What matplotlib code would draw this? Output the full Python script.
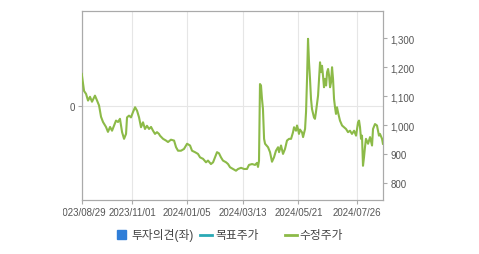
import matplotlib
matplotlib.use('Agg')
import matplotlib.pyplot as plt
from matplotlib.lines import Line2D
from matplotlib.patches import Rectangle
from matplotlib.ticker import FuncFormatter
from matplotlib.transforms import Bbox, TransformedBbox

plt.rcParams['font.family'] = ['Liberation Sans', 'Noto Sans CJK KR', 'DejaVu Sans']

# trading-day index (0 = 2023/08/29) and adjusted price
day = [0, 1.9, 3.5, 5.1, 6.7, 8.3, 10.7, 12.4, 14, 15.6, 17.2, 19.6, 21.2, 22.9, 24.5,
       26.1, 27.7, 29.3, 30.9, 32.6, 34.2, 35.8, 36.6, 38.2, 39.8, 41.4, 43.1, 44.7,
       46.3, 47.9, 49.5, 51.1, 52.7, 54.4, 56, 57.6, 59.2, 60.8, 62.4, 63.2, 65.7,
       68.1, 69.7, 72.1, 74.6, 76.2, 77.8, 80.2, 82.6, 85.1, 87.5, 89.1, 91.5, 93.9,
       95.6, 98, 100.4, 102, 104.4, 106.1, 107.7, 109.3, 110.9, 112.5, 114.1, 116.6,
       118.2, 119.8, 122.2, 124.6, 126.3, 128.7, 131.1, 133.5, 135.1, 137.6, 140,
       141.6, 142.4, 143.2, 144, 144.8, 145.6, 146.4, 147.3, 148.1, 150.5, 152.1,
       153.7, 155.3, 156.9, 158.6, 159.4, 161, 162.6, 164.2, 165.8, 167.5, 169.1,
       170.7, 171.5, 173.1, 173.9, 174.7, 175.5, 176.3, 178, 178.8, 180.4, 181.2,
       182, 182.8, 183.6, 184.4, 185.2, 186, 187.6, 188.4, 189.2, 190.9, 191.7,
       192.5, 193.3, 194.1, 194.9, 195.7, 196.5, 197.4, 198.2, 199, 199.8, 200.6,
       201.4, 202.2, 203, 203.8, 204.6, 205.4, 206.2, 207, 208.6, 210.3, 211.9,
       213.5, 215.1, 216.7, 218.3, 220, 221.6, 223.2, 224, 224.8, 225.6, 226.4,
       227.2, 228, 228.8, 229.6, 231.3, 232.9, 234.5, 235.3, 236.9, 238.5, 239.3,
       240.1, 240.9, 242.6, 243.3]
price = [1177, 1118, 1108, 1085, 1098, 1081, 1102, 1085, 1068, 1029, 1011, 994, 977, 994,
         981, 999, 1016, 1011, 1022, 976, 953, 970, 1027, 1033, 1027, 1045, 1062, 1050,
         1027, 993, 1010, 987, 998, 987, 994, 981, 970, 976, 970, 964, 953, 947, 942,
         950, 947, 924, 912, 912, 918, 936, 930, 912, 907, 901, 889, 884, 872, 878,
         866, 872, 889, 907, 903, 889, 878, 872, 866, 855, 849, 843, 849, 853, 849,
         849, 863, 866, 863, 870, 856, 877, 1142, 1137, 1091, 1056, 953, 936, 924,
         907, 874, 889, 912, 924, 907, 930, 901, 918, 947, 953, 953, 976, 993, 981,
         999, 987, 970, 985, 975, 959, 987, 1046, 1160, 1298, 1217, 1160, 1091, 1056,
         1027, 1022, 1045, 1102, 1160, 1217, 1183, 1205, 1171, 1131, 1160, 1137,
         1183, 1194, 1171, 1131, 1148, 1200, 1160, 1091, 1062, 1039, 1062, 1045,
         1016, 999, 993, 987, 976, 981, 970, 981, 964, 1010, 1016, 993, 953, 964,
         860, 889, 924, 953, 936, 959, 930, 987, 1004, 999, 981, 964, 970, 953, 936]

tick_days = [0, 41, 85, 130, 175, 222]
tick_labels = ['2023/08/29', '2023/11/01', '2024/01/05', '2024/03/13', '2024/05/21', '2024/07/26']
right_ticks = [800, 900, 1000, 1100, 1200, 1300]

legend_labels = ['투자의견(좌)', '목표주가', '수정주가']
c_opinion = '#2f7ed8'
c_target = '#2aa9b5'
c_price = '#8cba48'
grey = '#aaaaaa'
txt = '#555555'

fig = plt.figure(figsize=(4.79, 2.55), dpi=100)
ax = fig.add_axes([0.1706, 0.2118, 0.6296, 0.74])
ax2 = ax.twinx()

# left axis (opinion), only the 0 line
ax.set_ylim(-1, 1)
ax.set_yticks([0])
ax.set_yticklabels(['0'])
ax.set_xlim(0, 243.6)
ax.set_xticks(tick_days)
ax.set_xticklabels(tick_labels)
ax.grid(True, color='#e6e6e6', linewidth=0.8)
ax.set_axisbelow(True)
ax.tick_params(axis='both', colors=grey, labelcolor=txt, labelsize=7, length=3, width=0.8, pad=2)

# the first date label is cut at the left edge of the chart box
clip = TransformedBbox(Bbox([[63 / 479, 0], [1, 1]]), fig.transFigure)
first = ax.get_xticklabels()[0]
first.set_clip_on(True)
first.set_clip_box(clip)

ax2.plot(day, price, color=c_price, linewidth=1.5, zorder=3)
ax2.set_ylim(742, 1393)
ax2.set_yticks(right_ticks)
ax2.yaxis.set_major_formatter(FuncFormatter(lambda v, p: f'{int(v):,}'))
ax2.tick_params(axis='y', colors=grey, labelcolor=txt, labelsize=7, length=3, width=0.8, pad=2)

for a in (ax, ax2):
    for s in a.spines.values():
        s.set_color(grey)
        s.set_linewidth(0.8)

# legend, drawn by hand
ly = 1 - 236 / 255
fig.add_artist(Rectangle((117 / 479, 1 - 240 / 255), 9 / 479, 9 / 255,
                         transform=fig.transFigure, color=c_opinion))
fig.text(131 / 479, ly, legend_labels[0], fontsize=8.5, color='#444444', va='center')
fig.add_artist(Line2D([200 / 479, 212 / 479], [ly, ly], transform=fig.transFigure,
                      color=c_target, linewidth=2))
fig.text(215 / 479, ly, legend_labels[1], fontsize=8.5, color='#444444', va='center')
fig.add_artist(Line2D([285 / 479, 297 / 479], [ly, ly], transform=fig.transFigure,
                      color=c_price, linewidth=2))
fig.text(299 / 479, ly, legend_labels[2], fontsize=8.5, color='#444444', va='center')

fig.savefig('out.png', dpi=100)
